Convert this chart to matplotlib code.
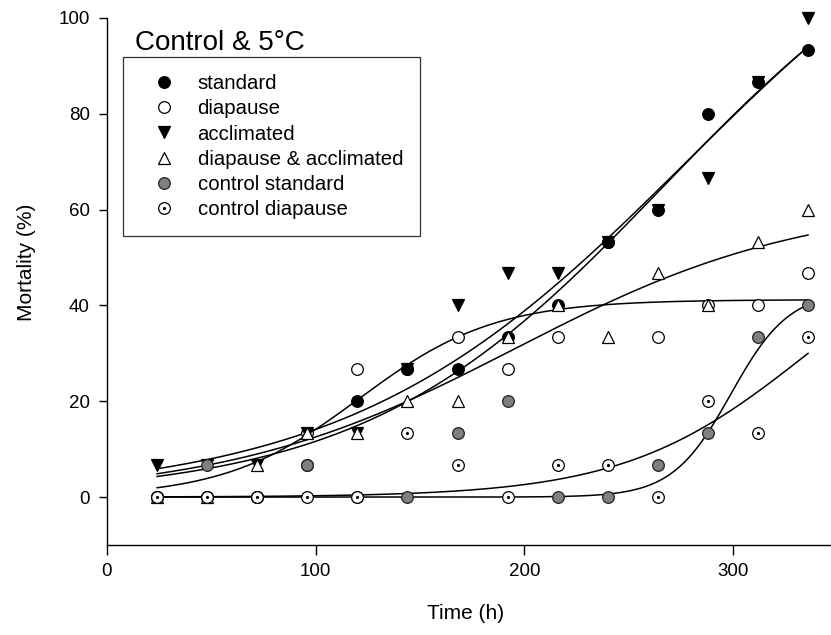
import matplotlib
matplotlib.use("Agg")
import matplotlib.pyplot as plt
import numpy as np

plt.rcParams['font.family'] = ['Liberation Sans', 'DejaVu Sans']

# sampling times (h)
hours = [24, 48, 72, 96, 120, 144, 168, 192, 216, 240, 264, 288, 312, 336]

# mortality (%) per treatment
standard = [0, 0, 0, 6.67, 20, 26.67, 26.67, 33.33, 40, 53.33, 60, 80, 86.67, 93.33]
diapause = [0, 0, 0, 13.33, 26.67, 26.67, 33.33, 26.67, 33.33, 53.33, 33.33, 40, 40, 46.67]
acclimated = [6.67, 6.67, 6.67, 13.33, 13.33, 26.67, 40, 46.67, 46.67, 53.33, 60, 66.67, 86.67, 100]
dia_accl = [0, 0, 6.67, 13.33, 13.33, 20, 20, 33.33, 40, 33.33, 46.67, 40, 53.33, 60]
ctrl_standard = [0, 6.67, 0, 6.67, 0, 0, 13.33, 20, 0, 0, 6.67, 13.33, 33.33, 40]
ctrl_diapause = [0, 0, 0, 0, 0, 13.33, 6.67, 0, 6.67, 6.67, 0, 20, 13.33, 33.33]

# fitted sigmoid curves  y = a / (1 + exp(-(t - t0) / b)),  [a, t0, b]
fit_standard = [130, 267, 72]
fit_diapause = [41.2, 121, 32.3]
fit_acclimated = [140, 277.8, 81.3]
fit_dia_accl = [62, 195.6, 69.7]
fit_ctrl_standard = [43, 299, 14]
fit_ctrl_diapause = [60, 336, 44]


def sigmoid(t, a, t0, b):
    return a / (1 + np.exp(-(t - t0) / b))


fig = plt.figure(figsize=(8.31, 6.35), dpi=100)
ax = fig.add_axes([107 / 831, 1 - 545 / 635, 1 - 107 / 831, (545 - 18) / 635])

# fitted lines
t_fit = np.linspace(hours[0], hours[-1], 300)
for p in [fit_standard, fit_diapause, fit_acclimated, fit_dia_accl,
          fit_ctrl_standard, fit_ctrl_diapause]:
    ax.plot(t_fit, sigmoid(t_fit, *p), color='black', lw=1.1, zorder=2)

# data points
ms = 8.4
kw = dict(mew=0.9, zorder=3, clip_on=False, linestyle='none')
h_dia, = ax.plot(hours, diapause, 'o', ms=ms, mfc='white', mec='black', **kw)
h_std, = ax.plot(hours, standard, 'o', ms=ms, mfc='black', mec='black', **kw)
h_acc, = ax.plot(hours, acclimated, 'v', ms=9, mfc='black', mec='black', **kw)
h_da, = ax.plot(hours, dia_accl, '^', ms=9, mfc='white', mec='black', **kw)
h_cs, = ax.plot(hours, ctrl_standard, 'o', ms=ms, mfc='#7f7f7f', mec='#222222', **kw)
h_cd1, = ax.plot(hours, ctrl_diapause, 'o', ms=ms, mfc='white', mec='black', **kw)
h_cd2, = ax.plot(hours, ctrl_diapause, '.', ms=2.5, color='black', zorder=3, clip_on=False)

ax.set_xlim(0, 347)
ax.set_ylim(-10, 100)
ax.set_xticks([0, 100, 200, 300])
ax.set_yticks([0, 20, 40, 60, 80, 100])
ax.spines['top'].set_visible(False)
ax.spines['right'].set_visible(False)
ax.spines['left'].set_linewidth(1.0)
ax.spines['bottom'].set_linewidth(1.0)
ax.tick_params(axis='x', direction='out', length=7, width=1.0, pad=6, labelsize=13.5)
ax.tick_params(axis='y', direction='out', length=5.5, width=1.0, pad=7, labelsize=13.5)

ax.set_xlabel('Time (h)', fontsize=15)
ax.set_ylabel('Mortality (%)', fontsize=15)
ax.xaxis.set_label_coords((466 - 107) / 724, -(604 - 545) / 527)
ax.yaxis.set_label_coords((36 - 107) / 724, (545 - 262) / 527)

fig.text(135 / 831, 1 - 50 / 635, 'Control & 5°C', fontsize=20, va='baseline', ha='left')

leg = fig.legend([h_std, h_dia, h_acc, h_da, h_cs, (h_cd1, h_cd2)],
                 ['standard', 'diapause', 'acclimated', 'diapause & acclimated',
                  'control standard', 'control diapause'],
                 loc='upper left', bbox_to_anchor=(123 / 831, 1 - 57 / 635),
                 borderaxespad=0, fontsize=14.7, numpoints=1, fancybox=False,
                 framealpha=1, edgecolor='#333333', borderpad=0.85,
                 handlelength=2.3, handletextpad=0.5, labelspacing=0.3)
leg.get_frame().set_linewidth(0.9)

fig.savefig('out.png', dpi=100)
